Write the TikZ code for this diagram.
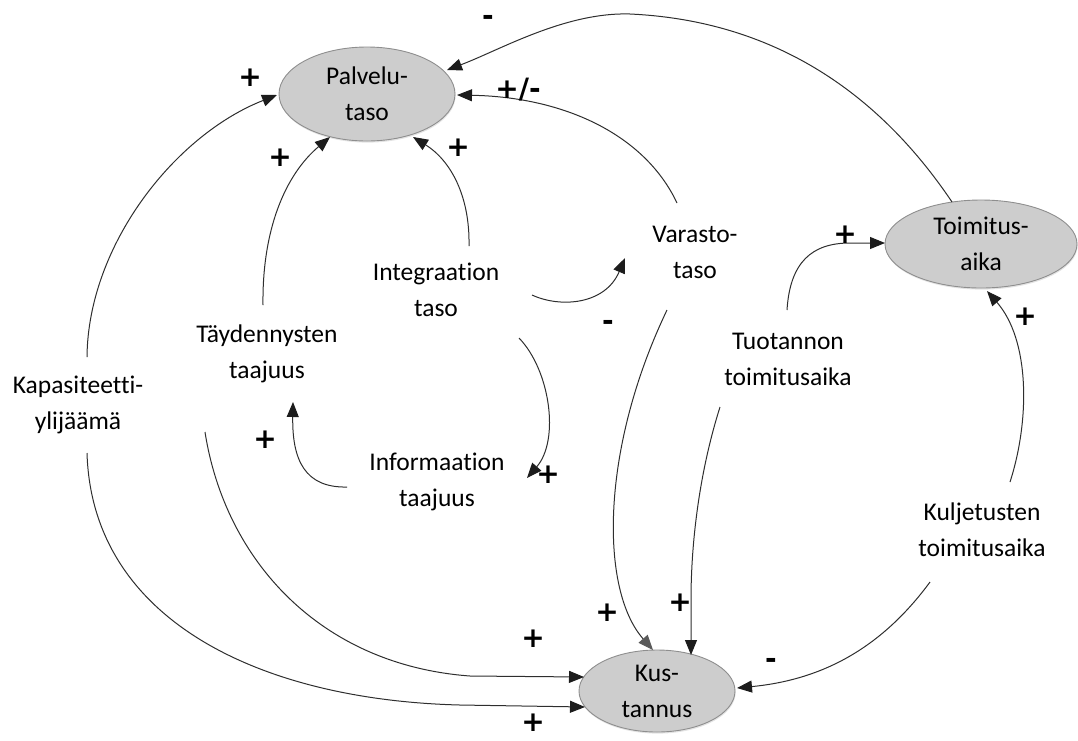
\documentclass[tikz,border=0pt]{standalone}
\usepackage{fontspec}
\setmainfont{Carlito}[Ligatures={NoCommon}]
\newfontfamily\signfont{DejaVu Sans}
\usetikzlibrary{shapes.geometric,arrows.meta,calc,shadows}

\definecolor{linkgray}{HTML}{2E2E2E}
\definecolor{tipgray}{HTML}{1C1C1C}
\definecolor{softtip}{HTML}{5A5A5A}
\definecolor{corefill}{HTML}{CDCDCD}
\definecolor{coreline}{HTML}{8E8E8E}

\begin{document}
\begin{tikzpicture}[x=1pt,y=-1pt,
  every node/.style={inner sep=0pt},
  factor/.style={align=center, font=\fontsize{25.5}{36}\selectfont},
  core/.style={factor, ellipse, draw=coreline, fill=corefill, line width=0.9pt,
    drop shadow={shadow xshift=0.6pt, shadow yshift=-1.6pt, opacity=0.22}},
  link/.style={draw=linkgray, line width=1pt,
    -{Triangle[length=15pt,width=12pt,color=tipgray,fill=tipgray]}},
  softlink/.style={draw=linkgray, line width=1pt,
    -{Triangle[length=15pt,width=12pt,color=softtip,fill=softtip]}},
  sign/.style={font=\signfont\bfseries\fontsize{28}{28}\selectfont},
]
\useasboundingbox (0,0) rectangle (1078,740);

% core quantities
\node[core, minimum width=176pt, minimum height=94pt] (palv) at (367,94) {Palvelu-\\taso};
\node[core, minimum width=192pt, minimum height=88pt] (toim) at (981,244) {Toimitus-\\aika};
\node[core, minimum width=156pt, minimum height=82pt] (kus) at (657,691) {Kus-\\tannus};

% other factors
\node[factor] (var)   at (695,252) {Varasto-\\taso};
\node[factor] (integ) at (436,290) {Integraation\\taso};
\node[factor] (tayd)  at (267,354) {Täydennysten\\taajuus};
\node[factor] (kap)   at (78,405)  {Kapasiteetti-\\ylijäämä};
\node[factor] (info)  at (437,482) {Informaation\\taajuus};
\node[factor] (tuot)  at (788,359) {Tuotannon\\toimitusaika};
\node[factor] (kulj)  at (982,530) {Kuljetusten\\toimitusaika};

% links into Palvelutaso
\draw[link] ($(toim)+(-29,-42)$) .. controls (870,80) and (760,20) .. (630,14)
  .. controls (565,12) and (500,50) .. ($(palv)+(80,-24)$);
\draw[link] ($(var)+(-18,-49)$) .. controls (645,135) and (565,97) .. ($(palv)+(90,1)$);
\draw[link] ($(integ)+(33,-44)$) .. controls (470,195) and (450,160) .. ($(palv)+(46,43)$);
\draw[link] ($(tayd)+(-4,-49)$) .. controls (262,230) and (285,175) .. ($(palv)+(-37,43)$);
\draw[link] ($(kap)+(9,-48)$) .. controls (88,245) and (175,135) .. ($(palv)+(-90,1)$);

% links into Kustannus
\draw[link] ($(kap)+(9,48)$) .. controls (92,620) and (260,700) .. (460,705)
  -- ($(kus)+(-72,16)$);
\draw[link] ($(tayd)+(-62,78)$) .. controls (225,560) and (320,665) .. (470,676)
  -- ($(kus)+(-73,-14)$);
\draw[softlink] ($(var)+(-28,58)$) .. controls (600,450) and (600,590) .. ($(kus)+(-4,-41)$);
\draw[link] ($(tuot)+(-68,48)$) .. controls (700,470) and (691,540) .. (691,600)
  -- ($(kus)+(34,-36)$);
\draw[link] ($(kulj)+(-52,52)$) .. controls (880,650) and (820,680) .. ($(kus)+(80,-3)$);

% links into Toimitusaika
\draw[link] ($(kulj)+(28,-48)$) .. controls (1030,420) and (1030,340) .. ($(toim)+(6,47)$);
\draw[link] ($(tuot)+(-1,-49)$) .. controls (790,262) and (812,243) .. (850,243)
  -- ($(toim)+(-96,-1)$);

% remaining links
\draw[link] ($(integ)+(96,5)$) .. controls (560,308) and (605,305) .. ($(var)+(-70,6)$);
\draw[link] ($(integ)+(83,48)$) .. controls (550,370) and (560,440) .. ($(info)+(90,-4)$);
\draw[link] ($(info)+(-90,5)$) .. controls (305,488) and (292,460) .. ($(tayd)+(26,48)$);

% polarity signs
\node[sign] (s1)  at (488,20)  {-};
\node[sign] (s2)  at (518,90)  {+/-};
\node[sign] (s3)  at (458,148) {+};
\node[sign] (s4)  at (280,158) {+};
\node[sign] (s5)  at (250,78)  {+};
\node[sign] (s6)  at (533,723) {+};
\node[sign] (s7)  at (533,639) {+};
\node[sign] (s8)  at (607,613) {+};
\node[sign] (s9)  at (680,603) {+};
\node[sign] (s10) at (771,663) {-};
\node[sign] (s11) at (1025,317) {+};
\node[sign] (s12) at (845,235) {+};
\node[sign] (s13) at (608,325) {-};
\node[sign] (s14) at (548,475) {+};
\node[sign] (s15) at (265,440) {+};
\end{tikzpicture}
\end{document}
